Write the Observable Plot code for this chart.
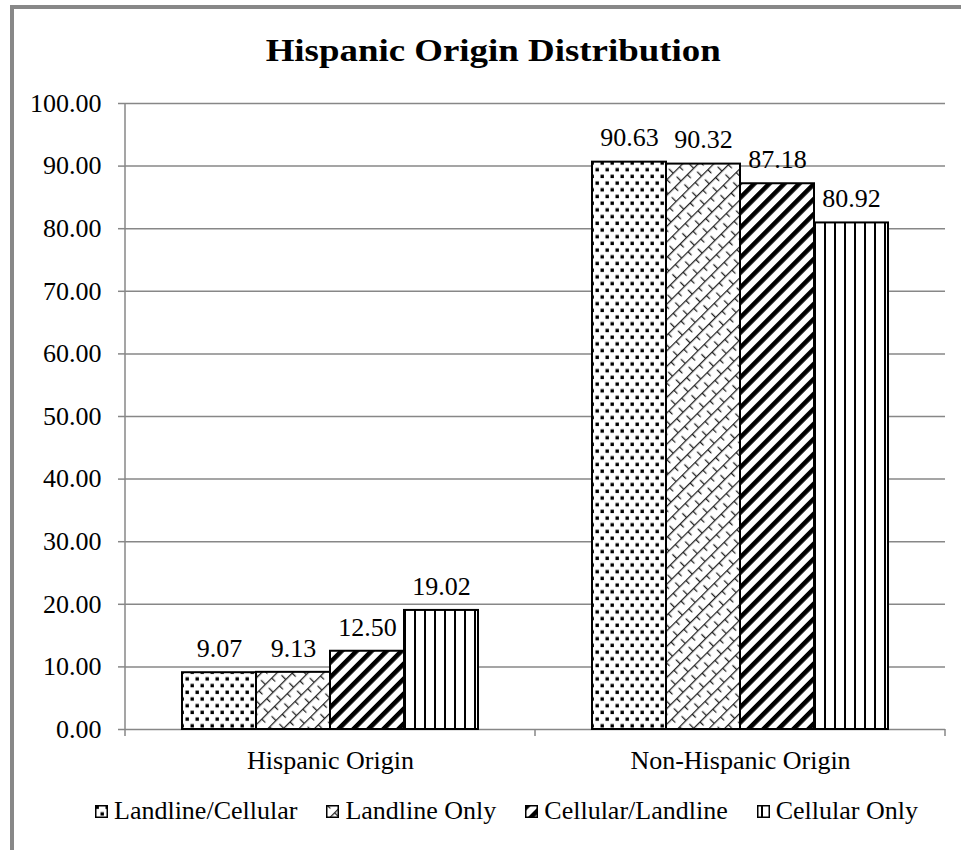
<!DOCTYPE html>
<html>
<head>
<meta charset="utf-8">
<script src="https://cdn.jsdelivr.net/npm/d3@7"></script>
<script src="https://cdn.jsdelivr.net/npm/@observablehq/plot@0.6"></script>
<style>
  body { margin: 0; background: #fff; font-family: "Liberation Serif", "Times New Roman", serif; }
  #wrap { position: relative; width: 961px; height: 850px; overflow: hidden; background: #fff; }
  #frame { position: absolute; left: 10px; top: 5px; width: 1000px; height: 900px;
           border-left: 4px solid #888; border-top: 4px solid #888; box-sizing: border-box; }
  #title { position: absolute; left: 0; width: 987px; top: 35px; text-align: center;
           font-family: "Liberation Serif", serif;
           font-size: 31px; line-height: 31px; font-weight: bold; color: #000; }
  #title span { display: inline-block; transform: scaleX(1.19); transform-origin: center; }
  #chart { position: absolute; left: 0; top: 0; }
  #chart svg, #chart svg text { font-family: "Liberation Serif", "Times New Roman", serif !important; font-variant: normal !important; }
  #legend { position: absolute; left: 95px; top: 798px; display: flex; align-items: center;
            gap: 29px; font-size: 26px; line-height: 26px; color: #000; white-space: nowrap;
            font-family: "Liberation Serif", serif; }
  .item { display: flex; align-items: center; gap: 6px; }
  .item svg { display: block; }
  #defs { position: absolute; width: 0; height: 0; }
</style>
</head>
<body>
<svg id="defs" width="0" height="0">
  <defs>
    <pattern id="pat-dots" patternUnits="userSpaceOnUse" width="10" height="13.4">
      <rect width="10" height="13.4" fill="#fff"/>
      <rect x="0.5" y="0.5" width="3.4" height="3.4" fill="#000"/>
      <rect x="5.5" y="7.2" width="3.4" height="3.4" fill="#000"/>
    </pattern>
    <pattern id="pat-lattice" patternUnits="userSpaceOnUse" width="18" height="11" patternTransform="rotate(-45)">
      <rect width="18" height="11" fill="#fff"/>
      <path d="M0,0.6H18M0.6,0V5.5M9.6,5.5V11" stroke="#222" stroke-width="1.3" fill="none"/>
    </pattern>
    <pattern id="pat-diag" patternUnits="userSpaceOnUse" width="10.6" height="10" patternTransform="rotate(45)">
      <rect width="10.6" height="10" fill="#fff"/>
      <rect x="0" y="0" width="4.6" height="10" fill="#000"/>
    </pattern>
    <pattern id="pat-vert" patternUnits="userSpaceOnUse" width="10" height="10">
      <rect width="10" height="10" fill="#fff"/>
      <rect x="4" y="0" width="2" height="10" fill="#000"/>
    </pattern>
  </defs>
</svg>
<div id="wrap">
  <div id="frame"></div>
  <div id="chart"></div>
  <div id="title"><span>Hispanic Origin Distribution</span></div>
  <div id="legend"></div>
</div>
<script>
// ---- data ----
const categories = ["Hispanic Origin", "Non-Hispanic Origin"];
const series = ["Landline/Cellular", "Landline Only", "Cellular/Landline", "Cellular Only"];
const hispanicValues = [9.07, 9.13, 12.50, 19.02];
const nonHispanicValues = [90.63, 90.32, 87.18, 80.92];
const yTicks = [0, 10, 20, 30, 40, 50, 60, 70, 80, 90, 100];
const patternIds = ["pat-dots", "pat-lattice", "pat-diag", "pat-vert"];

const valuesByCategory = [hispanicValues, nonHispanicValues];
const data = categories.flatMap((c, i) =>
  series.map((s, j) => ({ category: c, series: s, value: valuesByCategory[i][j] }))
);

const gray = "#878787";
const serif = "'Liberation Serif', 'Times New Roman', serif";

const chart = Plot.plot({
  width: 961,
  height: 780,
  marginTop: 103,
  marginBottom: 51,
  marginLeft: 125,
  marginRight: 16,
  style: { fontFamily: serif, fontSize: "26px", color: "#000", background: "transparent" },
  fx: { domain: categories, padding: 0, label: null, tickSize: 0, tickPadding: 21, axis: "bottom" },
  x: { domain: series, paddingInner: 0, paddingOuter: 0.75, axis: null },
  y: { domain: [0, 100], ticks: yTicks, tickFormat: d3.format(".2f"), tickSize: 7, tickPadding: 17, label: null },
  color: { domain: series, range: patternIds.map(id => `url(#${id})`) },
  marks: [
    Plot.ruleY(yTicks, { stroke: gray, strokeWidth: 1.5 }),
    Plot.barY(data, { fx: "category", x: "series", y: "value", fill: "series", stroke: "#000", strokeWidth: 2 }),
    Plot.text(data, { fx: "category", x: "series", y: "value", text: d => d.value.toFixed(2), dy: -24, fontSize: 26, fontFamily: serif })
  ]
});
document.getElementById("chart").appendChild(chart);

// gray y-axis ticks
const svg = d3.select(chart);
svg.selectAll('[aria-label^="y-axis"] path, [aria-label^="y-axis"] line').attr("stroke", gray).attr("stroke-width", 1.5);

// y-axis line and between-category tick marks, from the scales
const ys = chart.scale("y");
const fxs = chart.scale("fx");
const yBottom = Math.max(...ys.range), yTop = Math.min(...ys.range);
const fxApply = fxs.apply ? fxs.apply : (v => fxs.range[0] + categories.indexOf(v) * fxs.step);
const bw = fxs.bandwidth != null ? fxs.bandwidth : fxs.step;
const bounds = categories.map(c => fxApply(c));
bounds.push(fxApply(categories[categories.length - 1]) + bw);
const g = svg.append("g").attr("stroke", gray).attr("stroke-width", 1.5);
g.append("line").attr("x1", bounds[0]).attr("x2", bounds[0]).attr("y1", yTop).attr("y2", yBottom);
bounds.forEach(b => g.append("line").attr("x1", b).attr("x2", b).attr("y1", yBottom).attr("y2", yBottom + 7));

// legend
const legend = d3.select("#legend");
series.forEach((s, i) => {
  const item = legend.append("div").attr("class", "item");
  const sw = item.append("svg").attr("width", 13).attr("height", 13);
  sw.append("rect").attr("x", 0.75).attr("y", 0.75).attr("width", 11.5).attr("height", 11.5)
    .attr("fill", `url(#${patternIds[i]})`).attr("stroke", "#000").attr("stroke-width", 1.5);
  item.append("span").text(s);
});
</script>
</body>
</html>
